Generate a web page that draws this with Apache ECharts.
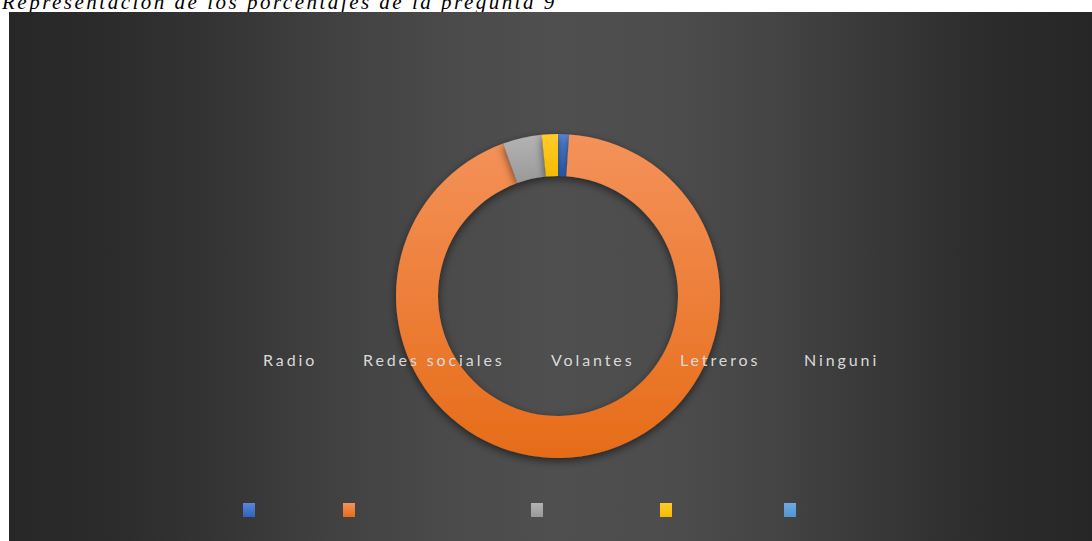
<!DOCTYPE html>
<html>
<head>
<meta charset="utf-8">
<script src="https://cdn.jsdelivr.net/npm/echarts@6/dist/echarts.min.js"></script>
<style>
  html, body { margin: 0; padding: 0; background: #ffffff; width: 1092px; height: 541px; overflow: hidden; position: relative; }
  #title { position: absolute; left: 2px; top: -9px; font-family: "Liberation Serif", "DejaVu Serif", serif; font-style: italic; font-size: 21px; letter-spacing: 2.5px; color: #000; white-space: nowrap; line-height: 22px; }
  #chart { position: absolute; left: 9px; top: 12px; width: 1083px; height: 529px; }
  #chart text { letter-spacing: 2.9px; }
</style>
</head>
<body>
<div id="title">Representación de los porcentajes de la pregunta 9</div>
<div id="chart"></div>
<script>
// ---- data ----
const categories = ['Radio', 'Redes sociales', 'Volantes', 'Letreros', 'Ninguni'];
const percentages = [1.1, 93.4, 3.9, 1.6, 0];
const colorsTop = ['#5a86d6', '#f4925a', '#b4b4b4', '#ffcb2e', '#6fa9df'];
const colorsBottom = ['#2f63c0', '#e66c18', '#999999', '#f5bb00', '#5394d2'];
// horizontal start of each legend entry (layout)
const legendLefts = [234, 334, 522, 651, 775];

const chart = echarts.init(document.getElementById('chart'), null, { renderer: 'svg' });

function grad(i) {
  return {
    type: 'linear', x: 0, y: 0, x2: 0, y2: 1,
    colorStops: [{ offset: 0, color: colorsTop[i] }, { offset: 1, color: colorsBottom[i] }]
  };
}

const legends = [];
categories.forEach((c, i) => {
  // marker row
  legends.push({
    data: [c],
    left: legendLefts[i], top: 491,
    padding: 0,
    itemWidth: 12, itemHeight: 14,
    icon: 'rect',
    selectedMode: false,
    formatter: () => '',
    textStyle: { color: 'transparent' }
  });
  // label row
  legends.push({
    data: [c],
    left: legendLefts[i], top: 339,
    padding: 0,
    itemWidth: 15, itemHeight: 14,
    icon: 'rect',
    selectedMode: false,
    itemStyle: { opacity: 0 },
    textStyle: { color: '#d9d9d9', fontSize: 16, fontFamily: 'Lato, "Open Sans", sans-serif' }
  });
});

chart.setOption({
  animation: false,
  backgroundColor: {
    type: 'linear', x: 0, y: 0, x2: 1, y2: 0,
    colorStops: [
      { offset: 0, color: '#272727' },
      { offset: 0.1, color: '#2c2c2c' },
      { offset: 0.2, color: '#353535' },
      { offset: 0.3, color: '#414141' },
      { offset: 0.4, color: '#4a4a4a' },
      { offset: 0.5, color: '#4f4f4f' },
      { offset: 0.6, color: '#4d4d4d' },
      { offset: 0.7, color: '#454545' },
      { offset: 0.8, color: '#383838' },
      { offset: 0.9, color: '#2c2c2c' },
      { offset: 1, color: '#262626' }
    ]
  },
  legend: legends,
  series: [{
    type: 'pie',
    center: [549, 284],
    radius: [120, 162],
    startAngle: 90,
    clockwise: true,
    avoidLabelOverlap: false,
    label: { show: false },
    labelLine: { show: false },
    emphasis: { disabled: true },
    itemStyle: {
      borderWidth: 0,
      shadowBlur: 9,
      shadowOffsetY: 3,
      shadowColor: 'rgba(0,0,0,0.55)'
    },
    data: categories.map((c, i) => ({
      name: c,
      value: percentages[i],
      itemStyle: { color: grad(i) }
    }))
  }]
});
</script>
</body>
</html>
